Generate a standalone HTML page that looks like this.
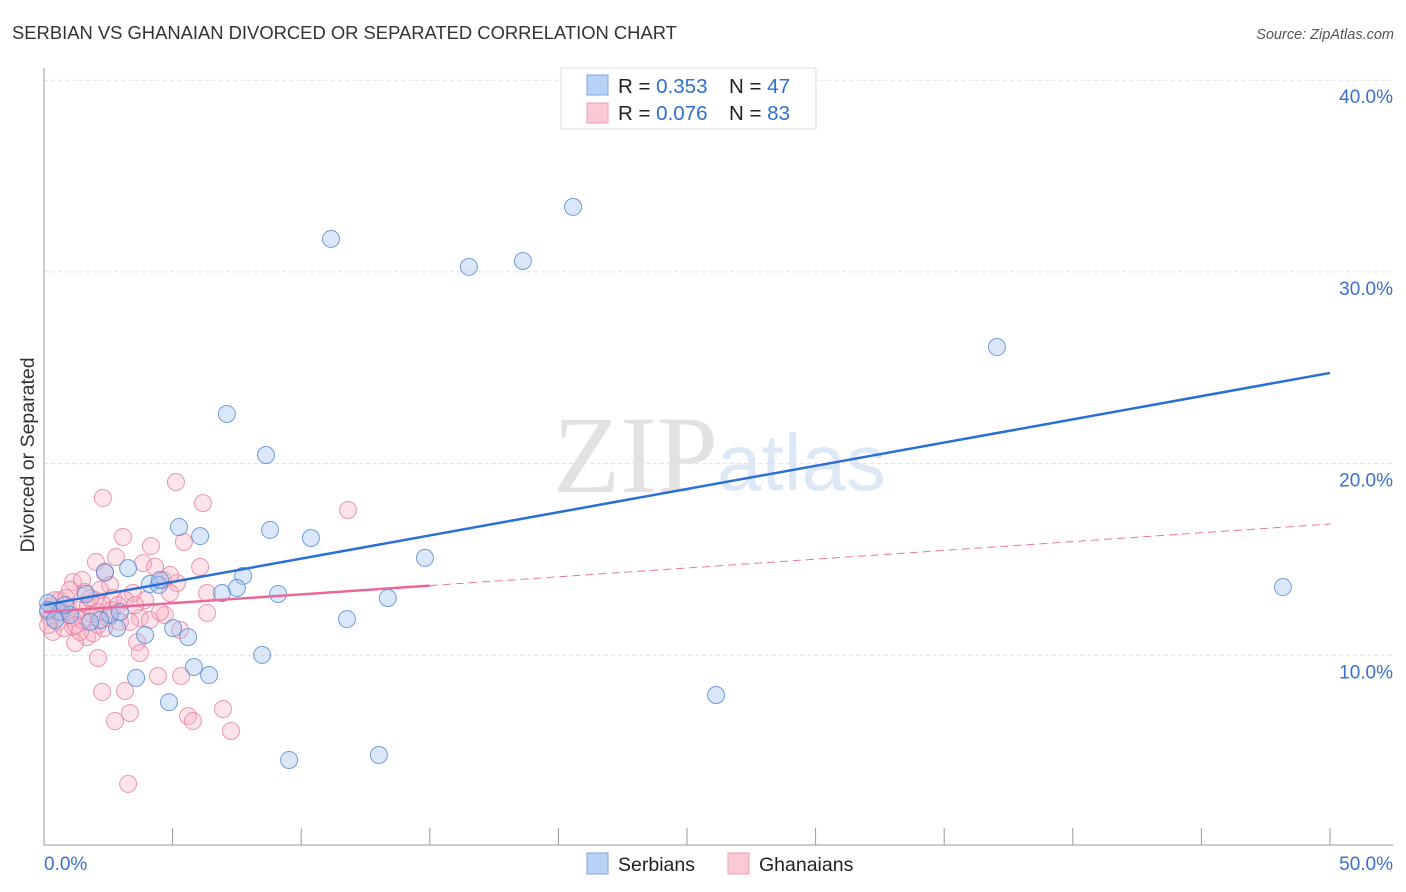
<!DOCTYPE html>
<html><head><meta charset="utf-8"><style>
body{margin:0;background:#fff;font-family:"Liberation Sans",sans-serif}
svg{display:block}
</style></head><body>
<svg id="chart" width="1406" height="892" xmlns="http://www.w3.org/2000/svg">
<text x="12" y="39" font-size="18.4" fill="#333">SERBIAN VS GHANAIAN DIVORCED OR SEPARATED CORRELATION CHART</text>
<text x="1394" y="39" font-size="14.5" fill="#555" text-anchor="end" font-style="italic">Source: ZipAtlas.com</text>
<g>
<text x="553" y="492" font-family="Liberation Serif,serif" font-size="110" fill="#e2e2e2">ZIP</text>
<text x="717" y="490" font-size="80" fill="#dde8f7">atlas</text>
</g>
<g id="grid"></g>
<g id="axes"></g>
<g id="marks"></g>
<text transform="translate(34,455) rotate(-90)" font-size="19.5" fill="#333" text-anchor="middle">Divorced or Separated</text>
<g>
<rect x="561" y="68" width="255" height="61" fill="#fff" stroke="#ddd"/>
<rect x="587" y="75" width="21" height="20" fill="#b9d3f6" stroke="#7ea7e3"/>
<rect x="587" y="103" width="21" height="20" fill="#fbc9d6" stroke="#ee9fb6"/>
<text x="618" y="93" font-size="20.5" fill="#222">R = <tspan fill="#2f6fd0">0.353</tspan></text>
<text x="729" y="93" font-size="20.5" fill="#222">N = <tspan fill="#2f6fd0">47</tspan></text>
<text x="618" y="120" font-size="20.5" fill="#222">R = <tspan fill="#2f6fd0">0.076</tspan></text>
<text x="729" y="120" font-size="20.5" fill="#222">N = <tspan fill="#2f6fd0">83</tspan></text>
</g>
<g>
<rect x="587" y="853" width="21" height="21" fill="#b9d3f6" stroke="#7ea7e3"/>
<text x="618" y="871" font-size="19.5" fill="#222">Serbians</text>
<rect x="728" y="853" width="21" height="21" fill="#fbc9d6" stroke="#ee9fb6"/>
<text x="759" y="871" font-size="19.5" fill="#222">Ghanaians</text>
</g>
</svg>
<script>
const yTicks=[10,20,30,40];
const yTickLabels=["10.0%","20.0%","30.0%","40.0%"];
const xTickLabels=["0.0%","50.0%"];
const serbX=[20.57,11.16,16.52,18.62,37.05,7.11,8.63,5.25,8.79,6.07,10.38,14.81,48.17,3.27,2.37,7.74,4.12,4.47,7.50,6.92,9.10,13.37,1.63,0.16,11.78,2.57,0.62,2.18,5.02,2.84,3.93,5.60,8.48,5.83,6.42,3.58,4.86,26.13,9.53,13.02,0.16,1.01,0.43,0.82,1.79,2.95,4.51];
const serbY=[33.39,31.72,30.26,30.57,26.08,22.59,20.45,16.69,16.54,16.22,16.12,15.08,13.56,14.55,14.35,14.14,13.72,13.67,13.51,13.25,13.20,12.99,13.20,12.73,11.89,12.10,12.26,11.84,11.42,11.42,11.06,10.95,10.02,9.39,8.97,8.82,7.56,7.93,4.54,4.80,12.36,12.10,11.84,12.62,11.74,12.26,13.93];
const ghanX=[5.13,2.29,6.18,11.82,3.07,5.44,4.16,2.02,2.80,6.07,3.85,4.32,2.37,1.13,1.48,2.57,4.63,5.17,3.46,2.68,6.34,4.90,6.34,4.70,3.73,3.34,0.62,0.23,0.35,1.13,1.67,1.21,2.10,1.91,3.62,3.73,5.29,2.10,4.43,5.33,2.26,3.15,3.34,2.76,5.60,5.79,6.96,7.27,3.27,0.16,0.31,0.54,0.70,0.93,1.09,1.32,1.48,1.71,1.87,2.10,2.26,2.49,2.64,2.95,3.15,0.78,1.40,1.98,0.43,1.59,1.01,2.18,2.88,4.12,4.51,3.93,3.54,4.90,0.16,0.86,1.24,2.33,1.79];
const ghanY=[19.04,18.21,17.94,17.58,16.17,15.91,15.70,14.87,15.13,14.61,14.81,14.61,14.29,13.82,13.93,13.67,13.93,13.77,13.25,12.99,13.25,13.25,12.21,12.10,11.95,11.74,12.88,12.00,11.22,11.48,10.95,10.64,11.58,11.16,10.69,10.12,11.32,9.86,8.92,8.92,8.09,8.14,6.99,6.57,6.83,6.57,7.20,6.05,3.29,12.26,12.57,11.74,12.26,12.47,11.95,12.36,11.84,12.57,12.15,12.26,12.68,11.95,12.36,11.74,12.88,11.42,11.22,12.88,12.88,13.30,13.41,13.41,12.62,11.84,12.26,12.88,12.62,14.19,11.58,12.99,11.58,11.42,12.99];
const serbTrend=[12.62,24.73];
const ghanTrend=[12.26,16.85];
const ghanSolidEnd=15;
const NS="http://www.w3.org/2000/svg";
const X=v=>44+v/50*1286;
const Y=v=>847-v*19.17;
function mk(tag,attrs,parent){const e=document.createElementNS(NS,tag);for(const k in attrs)e.setAttribute(k,attrs[k]);parent.appendChild(e);return e;}
const grid=document.getElementById('grid'),axes=document.getElementById('axes'),marks=document.getElementById('marks');
yTicks.forEach((t,i)=>{
 const l=mk('line',{x1:44,x2:1393,y1:Y(t),y2:Y(t),stroke:'#e0e0e0','stroke-dasharray':'4,3'},grid);
 
 
 const tx=mk('text',{x:1393,y:Y(t)+23,'font-size':19,fill:'#3a6fd0','text-anchor':'end'},grid);
 tx.textContent=yTickLabels[i];
 
 
});
const ax=mk('line',{x1:44,x2:44,y1:68,y2:845,stroke:'#999'},axes);


const bx=mk('line',{x1:44,x2:1393,y1:845,y2:845,stroke:'#999'},axes);


for(let v=0;v<=50;v+=5){
 const tk=mk('line',{x1:X(v),x2:X(v),y1:828,y2:845,stroke:'#999'},axes);
 
 
}
[[0,'start'],[50,'end']].forEach((p,i)=>{
 const t=mk('text',{x:i?1393:44,y:870,'font-size':19,fill:'#3a6fd0','text-anchor':p[1]},axes);
 t.textContent=xTickLabels[i];
 
 
});
ghanX.forEach((x,i)=>{
 const c=mk('circle',{cx:X(x),cy:Y(ghanY[i]),r:8.5,fill:'rgba(248,175,196,0.35)',stroke:'rgba(230,120,155,0.75)','stroke-width':1},marks);
 
 
});
serbX.forEach((x,i)=>{
 const c=mk('circle',{cx:X(x),cy:Y(serbY[i]),r:8.5,fill:'rgba(160,196,240,0.4)',stroke:'rgba(80,135,210,0.8)','stroke-width':1},marks);
 
 
});
const at=v=>ghanTrend[0]+(ghanTrend[1]-ghanTrend[0])*v/50;
const gd=mk('line',{x1:X(ghanSolidEnd),y1:Y(at(ghanSolidEnd)),x2:X(50),y2:Y(ghanTrend[1]),stroke:'#e8789c','stroke-width':1,'stroke-dasharray':'8,5'},marks);


const gs=mk('line',{x1:X(0),y1:Y(ghanTrend[0]),x2:X(ghanSolidEnd),y2:Y(at(ghanSolidEnd)),stroke:'#e8689a','stroke-width':2.5},marks);


const sl=mk('line',{x1:X(0),y1:Y(serbTrend[0]),x2:X(50),y2:Y(serbTrend[1]),stroke:'#2a6fd6','stroke-width':2.5},marks);


</script>
</body></html>
